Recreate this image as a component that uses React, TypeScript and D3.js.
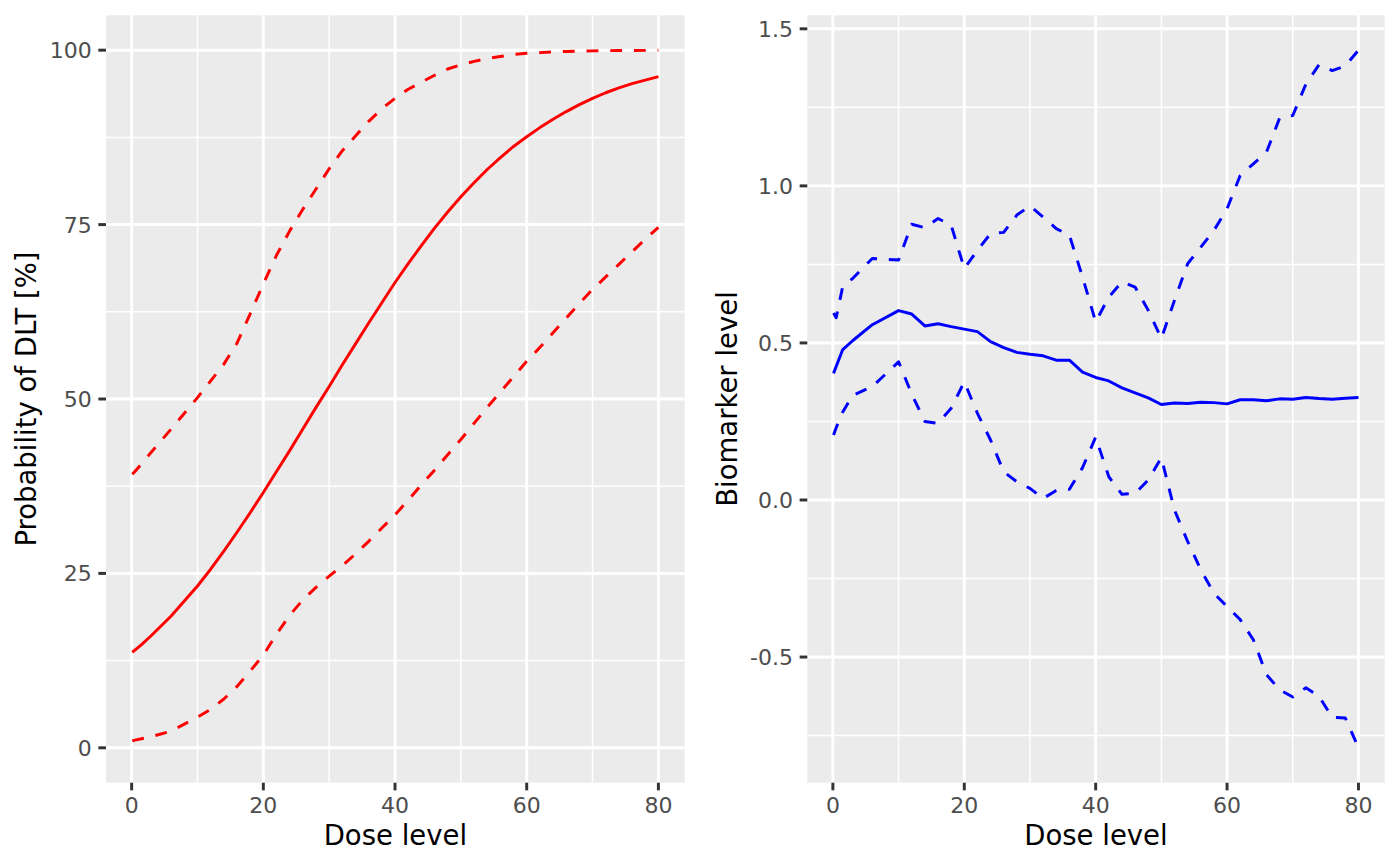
import React, { useEffect } from "react";
import * as d3 from "d3";

// Dose grid
const doseGrid = [0.1, 0.5, 1.5, 3, 6, 10, 12, 14, 16, 18, 20, 22, 24, 26, 28, 30, 32, 34, 36, 38, 40,
  42, 44, 46, 48, 50, 52, 54, 56, 58, 60, 62, 64, 66, 68, 70, 72, 74, 76, 78, 80];

// Left panel: probability of DLT [%]
const dltMean = [13.7, 14.0, 14.8, 16.1, 18.9, 23.2, 25.6, 28.2, 30.9, 33.7, 36.6, 39.6, 42.6, 45.7, 48.8,
  51.8, 54.9, 57.9, 60.9, 63.8, 66.7, 69.4, 72.0, 74.5, 76.8, 79.0, 81.0, 82.9, 84.6, 86.2, 87.6, 88.9,
  90.1, 91.2, 92.2, 93.1, 93.9, 94.6, 95.2, 95.7, 96.2];
const dltLower = [1.0, 1.1, 1.3, 1.6, 2.4, 4.4, 5.5, 7.0, 8.8, 11.0, 13.3, 16.3, 19.0, 21.2, 23.0, 24.6,
  26.1, 27.8, 29.6, 31.5, 33.4, 35.5, 37.7, 39.8, 42.0, 44.2, 46.5, 48.8, 51.0, 53.2, 55.4, 57.4, 59.5,
  61.6, 63.7, 65.7, 67.5, 69.3, 71.1, 72.9, 74.6];
const dltUpper = [39.2, 39.6, 40.7, 42.4, 45.7, 50.2, 52.6, 55.0, 58.0, 62.2, 66.5, 70.6, 74.1, 77.2, 80.1,
  83.0, 85.6, 87.7, 89.8, 91.6, 93.1, 94.4, 95.4, 96.4, 97.3, 97.9, 98.4, 98.8, 99.1, 99.4, 99.55, 99.65,
  99.75, 99.82, 99.87, 99.9, 99.93, 99.95, 99.96, 99.97, 99.98];

// Right panel: biomarker level
const bioMean = [0.403, 0.425, 0.479, 0.507, 0.558, 0.603, 0.592, 0.554, 0.561, 0.552, 0.544, 0.536, 0.504,
  0.485, 0.47, 0.464, 0.459, 0.445, 0.445, 0.407, 0.39, 0.379, 0.357, 0.341, 0.325, 0.304, 0.309, 0.307,
  0.311, 0.31, 0.306, 0.319, 0.319, 0.316, 0.322, 0.321, 0.326, 0.323, 0.321, 0.324, 0.326];
const bioUpper = [0.595, 0.58, 0.68, 0.705, 0.769, 0.764, 0.878, 0.867, 0.896, 0.875, 0.737, 0.795, 0.848,
  0.852, 0.907, 0.936, 0.901, 0.864, 0.843, 0.71, 0.567, 0.646, 0.695, 0.678, 0.604, 0.514, 0.636, 0.752,
  0.805, 0.858, 0.927, 1.033, 1.07, 1.107, 1.216, 1.224, 1.324, 1.386, 1.367, 1.382, 1.432];
const bioLower = [0.207, 0.23, 0.28, 0.333, 0.361, 0.44, 0.337, 0.25, 0.244, 0.292, 0.376, 0.276, 0.191,
  0.09, 0.058, 0.037, 0.005, 0.03, 0.034, 0.103, 0.2, 0.074, 0.018, 0.021, 0.064, 0.135, -0.032, -0.132,
  -0.222, -0.297, -0.339, -0.381, -0.445, -0.556, -0.604, -0.627, -0.598, -0.625, -0.692, -0.694, -0.789];

const xBreaks = [0, 20, 40, 60, 80];
const xMinor = [10, 30, 50, 70];
const dltBreaks = [0, 25, 50, 75, 100];
const dltLabels = ["0", "25", "50", "75", "100"];
const dltMinor = [12.5, 37.5, 62.5, 87.5];
const bioBreaks = [-0.5, 0, 0.5, 1.0, 1.5];
const bioLabels = ["-0.5", "0.0", "0.5", "1.0", "1.5"];
const bioMinor = [-0.75, -0.25, 0.25, 0.75, 1.25];

const W = 1400;
const H = 866;
const FONT = "DejaVu Sans, Verdana, sans-serif";
const LW = 2.96;
const TICK = 7.64;
const DASH = "11.85 11.85";

function expand(ext: [number, number]): [number, number] {
  const r = ext[1] - ext[0];
  return [ext[0] - 0.05 * r, ext[1] + 0.05 * r];
}

type Series = { values: number[]; dashed: boolean };

function Panel(props: {
  left: number; right: number; top: number; bottom: number;
  yDomain: [number, number];
  yBreaks: number[]; yLabels: string[]; yMinor: number[];
  series: Series[]; color: string; yTitle: string; yTitleX: number;
}) {
  const { left, right, top, bottom, yDomain, yBreaks, yLabels, yMinor, series, color, yTitle, yTitleX } = props;
  const x = d3.scaleLinear().domain(expand(d3.extent(doseGrid) as [number, number])).range([left, right]);
  const y = d3.scaleLinear().domain(yDomain).range([bottom, top]);
  const line = d3.line<number>().x((_, i) => x(doseGrid[i])).y((v) => y(v));
  return (
    <g>
      <rect x={left} y={top} width={right - left} height={bottom - top} fill="#EBEBEB" />
      {xMinor.map((v) => (
        <line key={"xm" + v} x1={x(v)} x2={x(v)} y1={top} y2={bottom} stroke="#fff" strokeWidth={LW / 2} />
      ))}
      {yMinor.map((v) => (
        <line key={"ym" + v} x1={left} x2={right} y1={y(v)} y2={y(v)} stroke="#fff" strokeWidth={LW / 2} />
      ))}
      {xBreaks.map((v) => (
        <line key={"xM" + v} x1={x(v)} x2={x(v)} y1={top} y2={bottom} stroke="#fff" strokeWidth={LW} />
      ))}
      {yBreaks.map((v) => (
        <line key={"yM" + v} x1={left} x2={right} y1={y(v)} y2={y(v)} stroke="#fff" strokeWidth={LW} />
      ))}
      {series.map((s, i) => (
        <path key={"s" + i} d={line(s.values) || ""} fill="none" stroke={color} strokeWidth={LW}
          strokeDasharray={s.dashed ? DASH : undefined} strokeLinejoin="round" />
      ))}
      {xBreaks.map((v) => (
        <g key={"xt" + v}>
          <line x1={x(v)} x2={x(v)} y1={bottom} y2={bottom + TICK} stroke="#333333" strokeWidth={LW} />
          <text x={x(v)} y={812.6} textAnchor="middle" fontSize={22} fill="#4D4D4D" fontFamily={FONT}>
            {String(v)}
          </text>
        </g>
      ))}
      {yBreaks.map((v, i) => (
        <g key={"yt" + v}>
          <line x1={left - TICK} x2={left} y1={y(v)} y2={y(v)} stroke="#333333" strokeWidth={LW} />
          <text x={left - TICK - 6.6} y={y(v)} dy="0.36em" textAnchor="end" fontSize={22} fill="#4D4D4D"
            fontFamily={FONT}>
            {yLabels[i]}
          </text>
        </g>
      ))}
      <text x={(left + right) / 2} y={845.3} textAnchor="middle" fontSize={27.5} fill="#000" fontFamily={FONT}>
        Dose level
      </text>
      <text transform={`translate(${yTitleX},${(top + bottom) / 2}) rotate(-90)`} textAnchor="middle"
        fontSize={27.5} fill="#000" fontFamily={FONT}>
        {yTitle}
      </text>
    </g>
  );
}

export default function App() {
  useEffect(() => {
    document.body.style.margin = "0";
  }, []);
  const bioAll = [...bioMean, ...bioUpper, ...bioLower];
  const bioDomain = expand(d3.extent(bioAll) as [number, number]);
  const dltDomain = expand([0, 100]);
  return (
    <svg width={W} height={H} style={{ display: "block", position: "absolute", left: 0, top: 0 }}
      xmlns="http://www.w3.org/2000/svg">
      <rect width={W} height={H} fill="#fff" />
      <Panel left={106} right={684.7} top={15.3} bottom={782.7} yDomain={dltDomain}
        yBreaks={dltBreaks} yLabels={dltLabels} yMinor={dltMinor}
        series={[{ values: dltMean, dashed: false }, { values: dltLower, dashed: true }, { values: dltUpper, dashed: true }]}
        color="#FF0000" yTitle="Probability of DLT [%]" yTitleX={36} />
      <Panel left={807.3} right={1384.7} top={15.3} bottom={782.7} yDomain={bioDomain}
        yBreaks={bioBreaks} yLabels={bioLabels} yMinor={bioMinor}
        series={[{ values: bioMean, dashed: false }, { values: bioLower, dashed: true }, { values: bioUpper, dashed: true }]}
        color="#0000FF" yTitle="Biomarker level" yTitleX={737.3} />
    </svg>
  );
}
